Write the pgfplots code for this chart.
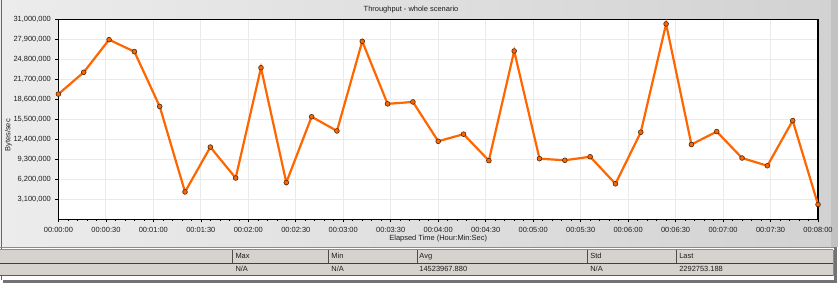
\documentclass[border=0pt]{standalone}
\usepackage{pgfplots}
\pgfplotsset{compat=1.18}
\usepackage{fontspec}
\setmainfont{Liberation Sans}
\definecolor{bgL}{HTML}{EDECED}
\definecolor{bgR}{HTML}{D2D2D2}
\definecolor{cell}{HTML}{D6D3CE}
\definecolor{gridc}{HTML}{EAEAEA}
\definecolor{lineor}{HTML}{FF6600}
\definecolor{mkdraw}{HTML}{4A2A10}
\definecolor{txt}{HTML}{1E1E1E}
\definecolor{frameR}{HTML}{C2C2C2}
\begin{document}
\begin{tikzpicture}[x=1bp,y=1bp,font=\fontsize{7.5}{8.5}\selectfont]
% page and window
\fill[white] (0,0) rectangle (838,285);
\fill[black!55] (3,2) rectangle (837,282);
\fill[white] (0,5) rectangle (834,285);
\shade[left color=bgL, right color=bgR] (0,38.3) rectangle (834,285);
\fill[frameR] (831,38.3) rectangle (838,285);
\draw[black!60, line width=0.8bp] (0.5,5) -- (0.5,285);
\draw[black!45, line width=0.8bp] (0,38.3) -- (834,38.3);
% table
\fill[cell] (0,9.7) rectangle (833.3,35.7);
\draw[black!45, line width=0.7bp] (0,35.7) -- (833.3,35.7);
\draw[black!75, line width=0.9bp] (0,22.3) -- (833.3,22.3);
\draw[black!65, line width=0.9bp] (0,9.7) -- (833.3,9.7);
\draw[black!45, line width=0.7bp] (833.3,9.7) -- (833.3,35.7);
\foreach \xx in {232.3,328.3,416.7,587.7,676.3}{
  \draw[black!70, line width=0.8bp] (\xx,22.3) -- (\xx,35.7);
}
\begin{scope}[every node/.style={anchor=west, inner sep=0pt, text=txt}]
\node at (235,29) {Max};
\node at (331,29) {Min};
\node at (419,29) {Avg};
\node at (590,29) {Std};
\node at (679,29) {Last};
\node at (235,16) {N/A};
\node at (331,16) {N/A};
\node at (419,16) {14523967.880};
\node at (590,16) {N/A};
\node at (679,16) {2292753.188};
\end{scope}
\node[text=txt, inner sep=0pt] at (410.8,275.5) {Throughput - whole scenario};
\begin{axis}[
  at={(58bp,66bp)}, anchor=south west,
  width=760bp, height=200bp, scale only axis,
  xmin=0, xmax=480, ymin=0, ymax=31000000,
  scaled y ticks=false,
  axis line style={black, line width=1.3bp},
  axis background/.style={fill=white},
  xtick={0,30,...,480},
  xticklabels={00:00:00,00:00:30,00:01:00,00:01:30,00:02:00,00:02:30,00:03:00,00:03:30,00:04:00,00:04:30,00:05:00,00:05:30,00:06:00,00:06:30,00:07:00,00:07:30,00:08:00},
  ytick={3100000,6200000,9300000,12400000,15500000,18600000,21700000,24800000,27900000,31000000},
  yticklabels={{3,100,000},{6,200,000},{9,300,000},{12,400,000},{15,500,000},{18,600,000},{21,700,000},{24,800,000},{27,900,000},{31,000,000}},
  minor x tick num=4,
  tick align=outside, xtick pos=bottom, ytick pos=left,
  major tick length=3bp, minor tick length=1.6bp,
  every tick/.style={black, line width=0.6bp},
  grid=major,
  major grid style={gridc, line width=1.1bp},
  ticklabel style={font=\fontsize{7.5}{8.5}\selectfont, text=txt},
  xticklabel style={yshift=-1bp},
  yticklabel style={xshift=-1bp},
  xlabel={Elapsed Time (Hour:Min:Sec)},
  xlabel style={at={(axis description cs:0.5,-0.095)}, anchor=center, font=\fontsize{7.5}{8.5}\selectfont, text=txt},
  ylabel={Bytes/sec},
  ylabel style={at={(axis description cs:-0.0658,0.42)}, anchor=center, font=\fontsize{7.5}{8.5}\selectfont, text=txt},
  clip=false,
]
\addplot[lineor, line width=2.2bp, mark=*, mark size=2.4bp,
  mark options={fill=lineor, draw=mkdraw, line width=0.6bp}] coordinates {
(0,19420000) (16,22800000) (32,27850000) (48,26000000) (64,17500000)
(80,4240000) (96,11200000) (112,6400000) (128,23500000) (144,5700000)
(160,15900000) (176,13700000) (192,27600000) (208,17900000) (224,18200000)
(240,12100000) (256,13200000) (272,9100000) (288,26100000) (304,9400000)
(320,9150000) (336,9700000) (352,5500000) (368,13500000) (384,30300000)
(400,11600000) (416,13600000) (432,9500000) (448,8300000) (464,15300000)
(480,2290000)
};
\end{axis}
\end{tikzpicture}
\end{document}
